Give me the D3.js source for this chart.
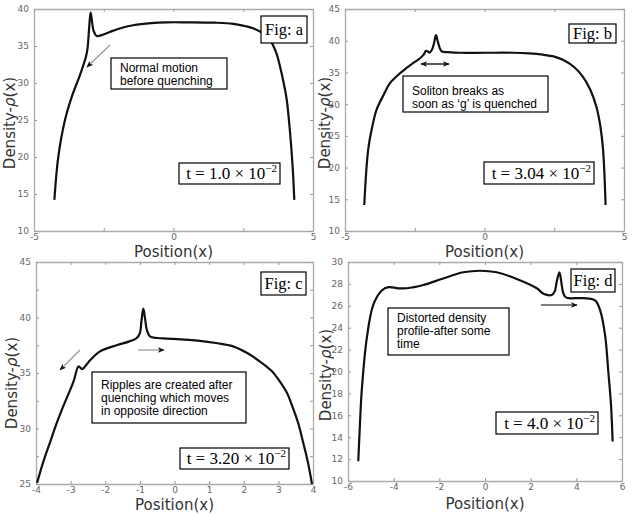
<!DOCTYPE html>
<html>
<head>
<meta charset="utf-8">
<script src="https://cdn.jsdelivr.net/npm/d3@7"></script>
<style>
  body { margin: 0; background: #fff; }
  .tick text { font-family: "DejaVu Sans", sans-serif; font-size: 9px; fill: #666; }
  .note { font-family: "Liberation Sans", Arial, sans-serif; font-size: 12px; fill: #000; }
  .fig { font-family: "Liberation Serif", serif; font-size: 16.5px; fill: #000; }
  .math { font-family: "Liberation Serif", serif; font-size: 17px; fill: #000; }
  .axlabel { font-family: "DejaVu Sans", sans-serif; font-size: 15px; fill: #333; }
</style>
</head>
<body>
<div id="chart"></div>
<script>
// data
var aX = [-4.27, -4.13, -3.89, -3.65, -3.35, -3.14, -3.08, -3.04, -3.0, -2.97, -2.93, -2.86, -2.75, -2.55, -2.28, -1.9, -1.45, -0.8, -0.24, 0.5, 1.5, 2.14, 2.55, 2.85, 3.2, 3.46, 3.68, 3.82, 3.96, 4.06, 4.18, 4.27, 4.33];
var aY = [14.2, 20.0, 25.0, 28.1, 31.1, 33.5, 34.7, 36.6, 38.6, 39.5, 38.6, 37.0, 36.35, 36.5, 36.9, 37.4, 37.8, 38.1, 38.2, 38.2, 38.15, 38.0, 37.7, 37.4, 36.7, 35.8, 34.1, 32.2, 29.8, 27.7, 23.2, 18.7, 14.2];

var bX = [-4.31, -4.17, -4.02, -3.87, -3.6, -3.39, -3.1, -2.79, -2.55, -2.32, -2.18, -2.10, -2.03, -1.98, -1.88, -1.80, -1.74, -1.68, -1.6, -1.53, -1.3, -0.89, 0.0, 1.0, 1.6, 2.09, 2.5, 2.81, 3.2, 3.53, 3.8, 4.01, 4.15, 4.25, 4.34];
var bY = [14.1, 22.8, 26.5, 29.1, 31.6, 33.3, 34.6, 35.7, 36.5, 37.2, 37.8, 38.4, 38.3, 38.1, 38.6, 39.8, 40.9, 40.0, 38.8, 38.3, 38.2, 38.1, 38.1, 38.1, 38.0, 37.8, 37.5, 37.0, 35.9, 34.3, 32.2, 29.6, 26.6, 22.8, 14.1];

var cX = [-3.97, -3.79, -3.59, -3.4, -3.2, -2.92, -2.77, -2.67, -2.58, -2.48, -2.15, -1.67, -1.3, -1.09, -1.0, -0.95, -0.90, -0.85, -0.80, -0.71, -0.5, -0.22, 0.3, 0.73, 1.2, 1.69, 2.1, 2.46, 2.8, 3.04, 3.25, 3.42, 3.58, 3.71, 3.85, 3.97];
var cY = [25.1, 27.0, 28.8, 30.5, 32.1, 34.2, 35.6, 35.35, 35.6, 36.0, 36.95, 37.5, 37.85, 38.15, 38.6, 39.8, 40.8, 39.9, 38.9, 38.3, 38.15, 38.1, 38.0, 37.9, 37.7, 37.4, 36.8, 36.05, 35.2, 34.25, 33.2, 31.85, 30.4, 28.8, 27.0, 25.0];

var dX = [-5.55, -5.47, -5.40, -5.18, -4.89, -4.52, -4.23, -3.8, -3.43, -2.70, -1.83, -0.95, -0.22, 0.51, 1.39, 2.27, 2.56, 2.92, 3.05, 3.15, 3.26, 3.34, 3.42, 3.52, 3.65, 4.31, 4.82, 5.04, 5.26, 5.40, 5.52, 5.59];
var dY = [11.8, 15.5, 18.2, 23.0, 26.1, 27.4, 27.7, 27.6, 27.6, 27.9, 28.5, 29.06, 29.2, 29.06, 28.45, 27.6, 27.1, 26.99, 27.3, 28.3, 29.06, 28.2, 27.2, 26.8, 26.7, 26.7, 26.5, 25.6, 23.3, 20.0, 16.9, 13.6];

var abXTicks = [-5, 0, 5];
var abXMinor = [-5, -2.5, 0, 2.5, 5];
var aYTicks = [10, 15, 20, 25, 30, 35, 40];
var bYTicks = [10, 15, 20, 25, 30, 35, 40, 45];
var cXTicks = [-4, -3, -2, -1, 0, 1, 2, 3, 4];
var cYTicks = [25, 30, 35, 40, 45];
var cYMinor = [25, 27.5, 30, 32.5, 35, 37.5, 40, 42.5, 45];
var dXTicks = [-6, -4, -2, 0, 2, 4, 6];
var dYTicks = [10, 12, 14, 16, 18, 20, 22, 24, 26, 28, 30];

var panels = [
  { xs: aX, ys: aY, xd: [-5, 5], yd: [10, 40], xt: abXMinor, xl: abXTicks, yt: aYTicks,
    box: [34, 313, 9, 231], xlab: 257, ylab: [10, 123],
    fig: "Fig: a", figBox: [261, 16, 46, 27],
    note: ["Normal motion", "before quenching"], noteBox: [111, 58, 116, 31], noteY: 72,
    tBox: [179, 163, 101, 21], t: "1.0",
    arrows: [{ x1: 110, y1: 45, x2: 87, y2: 67, c: "#999", both: false }] },
  { xs: bX, ys: bY, xd: [-5, 5], yd: [10, 45], xt: abXMinor, xl: abXTicks, yt: bYTicks,
    box: [345, 624, 9, 231], xlab: 257, ylab: [325, 123],
    fig: "Fig: b", figBox: [569, 24, 47, 19],
    note: ["Soliton breaks as", "soon as \u2018g\u2019 is quenched"], noteBox: [403, 76, 145, 36], noteY: 95,
    tBox: [484, 162, 110, 22], t: "3.04",
    arrows: [{ x1: 421, y1: 64, x2: 449, y2: 64, c: "#000", both: true }] },
  { xs: cX, ys: cY, xd: [-4, 4], yd: [25, 45], xt: cXTicks, xl: cXTicks, yt: cYMinor, yl: cYTicks,
    box: [36, 313, 262, 484], xlab: 510, ylab: [12, 383],
    fig: "Fig: c", figBox: [261, 272, 45, 23],
    note: ["Ripples are created after", "quenching which moves", "in opposite direction"], noteBox: [92, 372, 154, 51], noteY: 389,
    tBox: [180, 448, 109, 21], t: "3.20",
    arrows: [{ x1: 80, y1: 350, x2: 60, y2: 370, c: "#999", both: false },
             { x1: 138, y1: 350, x2: 164, y2: 350, c: "#999", both: false }] },
  { xs: dX, ys: dY, xd: [-6, 6], yd: [10, 30], xt: dXTicks, xl: dXTicks, yt: dYTicks,
    box: [348, 622, 262, 481], xlab: 509, ylab: [326, 375],
    fig: "Fig: d", figBox: [571, 269, 44, 23],
    note: ["Distorted density", "profile-after some", "time"], noteBox: [388, 308, 121, 47], noteY: 322,
    tBox: [496, 412, 102, 22], t: "4.0",
    arrows: [{ x1: 541, y1: 305, x2: 577, y2: 305, c: "#555", both: false }] }
];

var svg = d3.select("#chart").append("svg")
    .attr("width", 633)
    .attr("height", 514);

var defs = svg.append("defs");
defs.append("marker")
    .attr("id", "head")
    .attr("viewBox", "0 0 10 10")
    .attr("refX", 9).attr("refY", 5)
    .attr("markerWidth", 7).attr("markerHeight", 7)
    .attr("markerUnits", "userSpaceOnUse")
    .attr("orient", "auto-start-reverse")
  .append("path")
    .attr("d", "M0,1 L10,5 L0,9 L3,5 Z")
    .attr("fill", "#111");

panels.forEach(function(p) {
  var x = d3.scaleLinear().domain(p.xd).range([p.box[0], p.box[1]]);
  var y = d3.scaleLinear().domain(p.yd).range([p.box[3], p.box[2]]);
  var g = svg.append("g");

  // axes, MATLAB style box with inward ticks
  g.append("g")
      .attr("transform", "translate(0," + p.box[3] + ")")
      .call(d3.axisBottom(x).tickValues(p.xt).tickSizeInner(-3).tickSizeOuter(0).tickPadding(3)
        .tickFormat(function(d) { return p.xl.indexOf(d) >= 0 ? d : ""; }));
  g.append("g")
      .attr("transform", "translate(" + p.box[0] + ",0)")
      .call(d3.axisLeft(y).tickValues(p.yt).tickSizeInner(-3).tickSizeOuter(0).tickPadding(5)
        .tickFormat(function(d) { return (p.yl || p.yt).indexOf(d) >= 0 ? d : ""; }));
  g.append("g")
      .attr("transform", "translate(0," + p.box[2] + ")")
      .call(d3.axisTop(x).tickValues(p.xt).tickSizeInner(-3).tickSizeOuter(0).tickFormat(""));
  g.append("g")
      .attr("transform", "translate(" + p.box[1] + ",0)")
      .call(d3.axisRight(y).tickValues(p.yt).tickSizeInner(-3).tickSizeOuter(0).tickFormat(""));
  g.selectAll(".domain").attr("stroke", "#aaa").attr("stroke-width", 1.3);
  g.selectAll(".tick line").attr("stroke", "#999");

  var pts = p.xs.map(function(d, i) { return [d, p.ys[i]]; });
  var line = d3.line()
      .x(function(d) { return x(d[0]); })
      .y(function(d) { return y(d[1]); })
      .curve(d3.curveCatmullRom.alpha(0.5));
  g.append("path")
      .datum(pts)
      .attr("d", line)
      .attr("fill", "none")
      .attr("stroke", "#111")
      .attr("stroke-width", 2.2);

  g.append("text")
      .attr("class", "axlabel")
      .attr("x", x(0)).attr("y", p.xlab)
      .attr("text-anchor", "middle")
      .text("Position(x)");
  var yl = g.append("text")
      .attr("class", "axlabel")
      .attr("font-size", "14px")
      .attr("transform", "translate(" + (p.ylab[0] + 5) + "," + p.ylab[1] + ") rotate(-90)")
      .attr("text-anchor", "middle");
  yl.append("tspan").text("Density-");
  yl.append("tspan").attr("font-style", "italic").text("\u03c1");
  yl.append("tspan").text("(x)");

  p.arrows.forEach(function(a) {
    g.append("line")
        .attr("x1", a.x1).attr("y1", a.y1)
        .attr("x2", a.x2).attr("y2", a.y2)
        .attr("stroke", a.c)
        .attr("stroke-width", 1.3)
        .attr("marker-end", "url(#head)")
        .attr("marker-start", a.both ? "url(#head)" : null);
  });

  // labels in boxes
  g.append("rect")
      .attr("x", p.figBox[0]).attr("y", p.figBox[1])
      .attr("width", p.figBox[2]).attr("height", p.figBox[3])
      .attr("fill", "#fff").attr("stroke", "#000").attr("stroke-width", 1.2);
  g.append("text")
      .attr("class", "fig")
      .attr("x", p.figBox[0] + p.figBox[2] / 2)
      .attr("y", p.figBox[1] + p.figBox[3] / 2 + 5.5)
      .attr("text-anchor", "middle")
      .text(p.fig);

  g.append("rect")
      .attr("x", p.noteBox[0]).attr("y", p.noteBox[1])
      .attr("width", p.noteBox[2]).attr("height", p.noteBox[3])
      .attr("fill", "#fff").attr("stroke", "#000").attr("stroke-width", 1.2);
  p.note.forEach(function(s, i) {
    g.append("text")
        .attr("class", "note")
        .attr("x", p.noteBox[0] + 9)
        .attr("y", p.noteY + i * 13)
        .text(s);
  });

  g.append("rect")
      .attr("x", p.tBox[0]).attr("y", p.tBox[1])
      .attr("width", p.tBox[2]).attr("height", p.tBox[3])
      .attr("fill", "#fff").attr("stroke", "#000").attr("stroke-width", 1.2);
  var mt = g.append("text")
      .attr("class", "math")
      .attr("x", p.tBox[0] + p.tBox[2] - 3)
      .attr("y", p.tBox[1] + p.tBox[3] - 5)
      .attr("text-anchor", "end");
  mt.append("tspan").text("t = " + p.t + " \u00d7 10");
  mt.append("tspan").attr("font-size", "11px").attr("dy", -7).text("\u22122");
});
</script>
</body>
</html>
